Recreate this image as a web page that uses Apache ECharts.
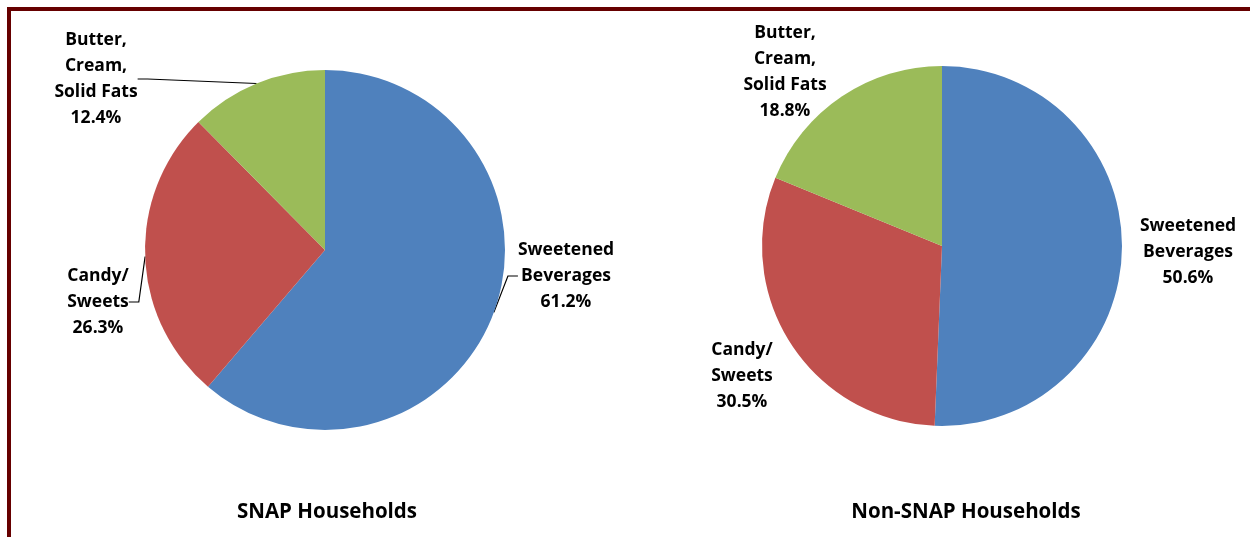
<!DOCTYPE html>
<html>
<head>
<meta charset="utf-8">
<script src="https://cdn.jsdelivr.net/npm/echarts@6/dist/echarts.min.js"></script>
<style>
html,body{margin:0;padding:0;background:#fff;}
#chart{width:1250px;height:537px;}
</style>
</head>
<body>
<div id="chart"></div>
<script>
const categories = ['Sweetened\nBeverages', 'Candy/\nSweets', 'Butter,\nCream,\nSolid Fats'];
const snapValues = [61.2, 26.3, 12.4];
const nonSnapValues = [50.6, 30.5, 18.8];
const chartTitles = ['SNAP Households', 'Non-SNAP Households'];
const colors = ['#4F81BD', '#C0504D', '#9BBB59'];

const FONT = 'Open Sans';
const labelStyle = {
  color: '#000', fontFamily: FONT, fontWeight: 'bold', fontSize: 17.5, lineHeight: 26,
  overflow: 'none',
  formatter: p => p.name + '\n' + p.value.toFixed(1) + '%'
};

const snapLabelPos = [[566, 276], [98, 302], [96, 79]];
const nonSnapLabelPos = [[1188, 252], [742, 376], [785, 72]];

const chart = echarts.init(document.getElementById('chart'));
chart.setOption({
  animation: false,
  color: colors,
  title: [
    {text: chartTitles[0], left: 322, top: 497, textAlign: 'center',
     textStyle: {fontFamily: FONT, fontWeight: 'bold', fontSize: 20.5, color: '#000'}},
    {text: chartTitles[1], left: 961, top: 497, textAlign: 'center',
     textStyle: {fontFamily: FONT, fontWeight: 'bold', fontSize: 20.5, color: '#000'}}
  ],
  graphic: [
    {type: 'rect', shape: {x: 7, y: 7, width: 1243, height: 4}, style: {fill: '#660000'}},
    {type: 'rect', shape: {x: 7, y: 7, width: 4, height: 530}, style: {fill: '#660000'}}
  ],
  series: [
    {
      type: 'pie', center: [325, 250], radius: 180, startAngle: 90, clockwise: true,
      data: categories.map((c, i) => ({name: c, value: snapValues[i]})),
      label: Object.assign({show: true, position: 'outside'}, labelStyle),
      labelLine: {show: true, length: 10, length2: 10, lineStyle: {color: '#000', width: 1.2}},
      labelLayout: p => ({x: snapLabelPos[p.dataIndex][0], y: snapLabelPos[p.dataIndex][1], align: 'center', verticalAlign: 'middle'}),
      emphasis: {disabled: true}
    },
    {
      type: 'pie', center: [942, 246], radius: 180, startAngle: 90, clockwise: true,
      data: categories.map((c, i) => ({name: c, value: nonSnapValues[i]})),
      label: Object.assign({show: true, position: 'outside'}, labelStyle),
      labelLine: {show: false},
      labelLayout: p => ({x: nonSnapLabelPos[p.dataIndex][0], y: nonSnapLabelPos[p.dataIndex][1], align: 'center', verticalAlign: 'middle'}),
      emphasis: {disabled: true}
    }
  ]
});
</script>
</body>
</html>
